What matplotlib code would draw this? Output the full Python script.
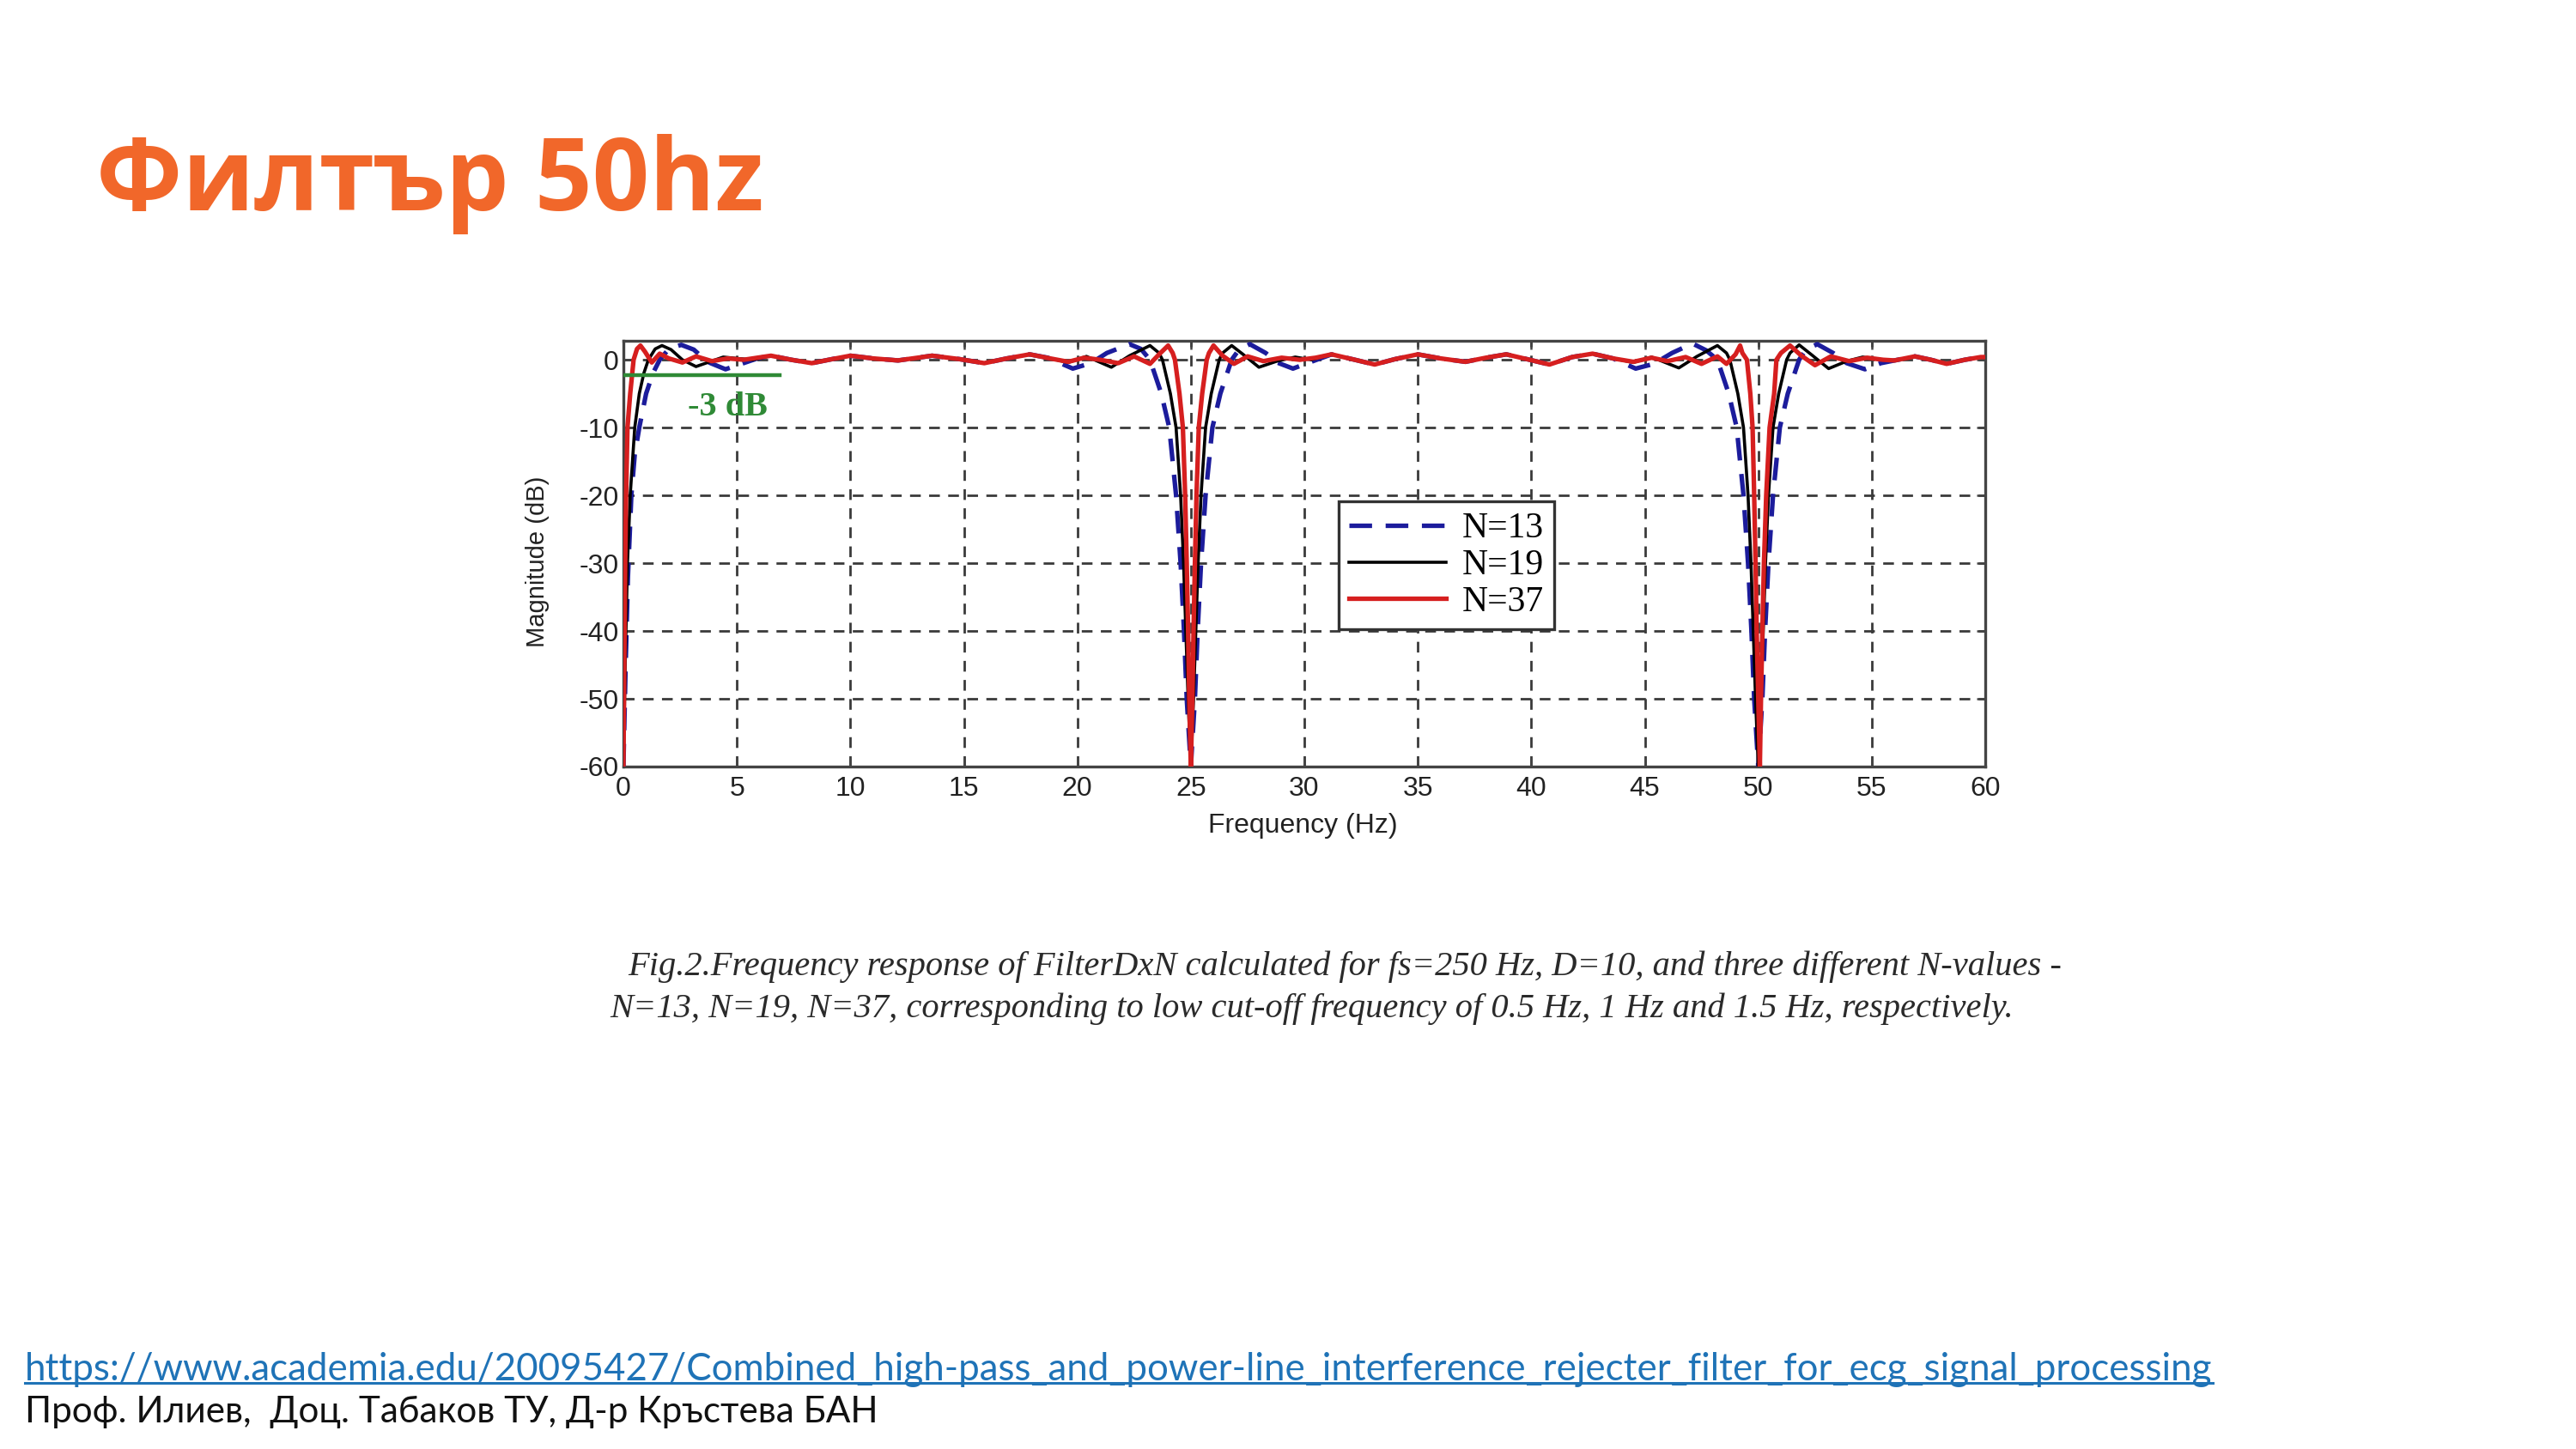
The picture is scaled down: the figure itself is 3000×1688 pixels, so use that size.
import matplotlib
matplotlib.use("Agg")
import matplotlib.pyplot as plt
from matplotlib.lines import Line2D

plt.rcParams["axes.unicode_minus"] = False

# ---------- data (Hz, dB) ----------
blue_hz = [0, 0.1, 0.2, 0.35, 0.5, 0.7, 1.0, 1.3, 1.6, 2.0, 2.55, 3.1, 3.7, 4.5, 5.2, 5.9,
           6.5, 7.4, 8.3, 9.2, 10.0, 11.0, 12.1, 13.6, 14.8, 15.9, 16.9, 17.9, 18.7, 19.8,
           20.6, 21.3, 22.3, 22.8, 23.2, 23.7, 24.05, 24.35, 24.55, 24.7, 24.82, 25.0,
           25.18, 25.3, 25.45, 25.65, 25.95, 26.3, 26.8, 27.1, 27.6, 28.3, 28.8, 29.5, 30.3,
           31.2, 32.1, 33.1, 34.0, 35.0, 36.0, 37.1, 38.0, 38.9, 39.8, 40.8, 41.8, 42.7,
           43.6, 44.6, 45.4, 46.2, 47.1, 47.7, 48.2, 48.7, 49.05, 49.35, 49.55, 49.7, 49.82,
           50.0, 50.18, 50.3, 50.45, 50.65, 50.95, 51.3, 51.8, 52.1, 52.6, 53.3, 53.9, 54.7,
           55.4, 56.0, 56.9, 57.6, 58.3, 59.1, 59.8, 60.0]
blue_db = [-60, -45, -32, -20, -14, -10, -5, -2, 0, 1.6, 2.2, 1.5, -0.3, -1.4, -0.6, 0.2,
           0.6, 0.0, -0.5, 0.1, 0.6, 0.2, -0.1, 0.6, 0.1, -0.5, 0.2, 0.8, 0.3, -1.3,
           -0.5, 1.0, 2.3, 1.6, 0.0, -5, -10, -20, -30, -40, -50, -60,
           -50, -40, -30, -20, -10, -5, 0.0, 1.4, 2.3, 1.0, -0.4, -1.3, -0.3,
           0.8, 0.1, -0.7, 0.1, 0.8, 0.2, -0.3, 0.3, 0.8, 0.1, -0.7, 0.4, 0.9,
           0.2, -1.3, -0.6, 1.0, 2.4, 1.4, 0.0, -5, -10, -20, -30, -40, -50,
           -60, -50, -40, -30, -20, -10, -5, 0.0, 1.5, 2.3, 1.0, -0.5, -1.4,
           -0.5, -0.1, 0.5, 0.0, -0.6, 0.0, 0.4, 0.4]

black_hz = [0, 0.08, 0.18, 0.3, 0.5, 0.7, 0.9, 1.1, 1.4, 1.7, 2.1, 2.6, 3.2, 3.8, 4.4, 5.0,
            5.7, 6.5, 7.4, 8.3, 9.2, 10.0, 11.0, 12.1, 13.6, 14.8, 15.9, 16.9, 17.9, 18.8,
            19.6, 20.4, 21.5, 22.3, 23.2, 23.6, 23.75, 24.1, 24.35, 24.55, 24.68, 24.78,
            24.88, 25.0, 25.12, 25.22, 25.32, 25.45, 25.65, 25.9, 26.25, 26.4, 26.8, 27.3,
            28.0, 28.8, 29.6, 30.3, 31.2, 32.1, 33.1, 34.0, 35.0, 36.0, 37.1, 38.0, 38.9,
            39.8, 40.8, 41.8, 42.7, 43.6, 44.5, 45.3, 46.5, 47.3, 48.2, 48.6, 48.75, 49.1,
            49.35, 49.55, 49.68, 49.78, 49.88, 50.0, 50.12, 50.22, 50.32, 50.45, 50.65,
            50.9, 51.25, 51.4, 51.8, 52.4, 53.1, 53.9, 54.6, 55.4, 56.0, 56.9, 57.6, 58.3,
            59.1, 59.8, 60.0]
black_db = [-60, -45, -30, -20, -10, -5, -2, 0, 1.6, 2.1, 1.5, 0.0, -1.0, -0.3, 0.4, 0.2,
            0.0, 0.6, 0.0, -0.5, 0.1, 0.6, 0.2, -0.1, 0.6, 0.1, -0.5, 0.2, 0.8, 0.2,
            -0.4, 0.5, -1.1, 0.6, 2.1, 1.0, 0.0, -5, -10, -20, -30, -40,
            -50, -60, -50, -40, -30, -20, -10, -5, 0.0, 1.0, 2.1, 0.8,
            -1.1, -0.2, 0.4, 0.0, 0.8, 0.1, -0.7, 0.1, 0.8, 0.2, -0.3, 0.3, 0.8,
            0.1, -0.7, 0.4, 0.9, 0.2, -0.4, 0.4, -1.2, 0.5, 2.1, 1.0, 0.0, -5,
            -10, -20, -30, -40, -50, -60, -50, -40, -30, -20, -10,
            -5, 0.0, 1.0, 2.2, 0.6, -1.3, -0.2, 0.4, 0.0, -0.1, 0.5, 0.0, -0.6,
            0.0, 0.4, 0.4]

red_hz = [0, 0.04, 0.08, 0.12, 0.18, 0.3, 0.45, 0.6, 0.75, 0.95, 1.25, 1.6, 2.0, 2.6, 3.2,
          3.9, 4.6, 5.3, 6.5, 7.4, 8.3, 9.2, 10.0, 11.0, 12.1, 13.6, 14.8, 15.9, 16.9, 17.9,
          18.8, 19.6, 20.3, 21.0, 21.8, 22.5, 23.2, 23.6, 24.0, 24.2, 24.3, 24.5, 24.65,
          24.75, 24.82, 24.88, 24.93, 25.0, 25.07, 25.12, 25.18, 25.25, 25.35, 25.5, 25.7,
          25.8, 26.0, 26.4, 26.9, 27.5, 28.2, 29.0, 29.8, 30.5, 31.2, 32.1, 33.1, 34.0,
          35.0, 36.0, 37.1, 38.0, 38.9, 39.8, 40.8, 41.8, 42.7, 43.6, 44.5, 45.3, 46.0,
          46.8, 47.5, 48.2, 48.6, 49.0, 49.2, 49.3, 49.5, 49.65, 49.75, 49.82, 49.88, 49.93,
          50.0, 50.07, 50.12, 50.18, 50.25, 50.35, 50.5, 50.7, 50.8, 51.0, 51.4, 51.9, 52.5,
          53.2, 54.0, 54.8, 55.5, 56.0, 56.9, 57.6, 58.3, 59.1, 59.8, 60.0]
red_db = [-60, -45, -30, -20, -10, -5, 0, 1.6, 2.1, 1.2, -0.4, 0.9, 0.2, -0.4, 0.5,
          -0.2, 0.2, 0.0, 0.6, 0.0, -0.5, 0.1, 0.6, 0.2, -0.1, 0.6, 0.1, -0.5, 0.2, 0.8,
          0.2, -0.3, 0.3, 0.0, -0.5, 0.5, -0.6, 0.8, 2.1, 1.0, 0.0, -5, -10,
          -20, -30, -40, -50, -60, -50, -40, -30, -20, -10, -5, 0.0,
          1.0, 2.1, 0.6, -0.6, 0.5, -0.2, 0.3, 0.0, 0.3, 0.8, 0.1, -0.7, 0.1,
          0.8, 0.2, -0.3, 0.3, 0.8, 0.1, -0.7, 0.4, 0.9, 0.2, -0.3, 0.3, -0.2,
          0.4, -0.6, 0.5, -0.6, 0.8, 2.1, 1.0, 0.0, -5, -10, -20, -30, -40, -50,
          -60, -50, -40, -30, -20, -10, -5, 0.0, 1.0, 2.1, 0.6, -0.8, 0.5,
          -0.2, 0.3, 0.0, -0.1, 0.5, 0.0, -0.6, 0.0, 0.4, 0.4]

series_labels = ["N=13", "N=19", "N=37"]
x_ticks = [0, 5, 10, 15, 20, 25, 30, 35, 40, 45, 50, 55, 60]
y_ticks = [0, -10, -20, -30, -40, -50, -60]

title_text = "Филтър 50hz"
caption_1 = ("Fig.2.Frequency response of FilterDxN calculated for fs=250 Hz, D=10, "
             "and three different N-values -")
caption_2 = ("N=13, N=19, N=37, corresponding to low cut-off frequency of 0.5 Hz, "
             "1 Hz and 1.5 Hz, respectively.")
link_text = ("https://www.academia.edu/20095427/Combined_high-pass_and_power-line_"
             "interference_rejecter_filter_for_ecg_signal_processing")
authors_text = "Проф. Илиев,  Доц. Табаков ТУ, Д-р Кръстева БАН"

# ---------- figure ----------
W, H = 3000, 1688
fig = plt.figure(figsize=(15, 8.44), dpi=200)
fig.patch.set_facecolor("white")

ax = fig.add_axes([726 / W, 1 - 893 / H, (2312 - 726) / W, (893 - 397) / H])

ax.plot(blue_hz, blue_db, color="#1c1c9c", lw=1.9, ls=(0, (5.0, 3.0)), label=series_labels[0], zorder=3)
ax.plot(black_hz, black_db, color="black", lw=1.3, label=series_labels[1], zorder=4)
ax.plot(red_hz, red_db, color="#d61f1f", lw=1.9, label=series_labels[2], zorder=5)

# -3 dB marker
ax.plot([0, 6.9], [-2.3, -2.3], color="#2f8a36", lw=1.6, zorder=6)
ax.text(4.6, -7.0, "-3 dB", color="#2f8a36", fontsize=14.5, fontweight="bold",
        family="Liberation Serif", ha="center", va="center", zorder=6)

ax.set_xlim(0, 60)
ax.set_ylim(-60, 2.8)
ax.set_xticks(x_ticks)
ax.set_yticks(y_ticks)
ax.grid(True, color="#3a3a3a", lw=1.0, ls=(0, (4.5, 3.5)))
ax.set_axisbelow(True)
for s in ax.spines.values():
    s.set_color("#444444")
    s.set_linewidth(1.2)
ax.tick_params(direction="in", length=3.5, width=0.9, top=True, right=True,
               colors="#444444", labelcolor="#222222", labelsize=11.5)
ax.tick_params(axis="x", pad=4)
ax.tick_params(axis="y", pad=2)
for lab in ax.get_xticklabels() + ax.get_yticklabels():
    lab.set_family("Liberation Sans")

ax.set_xlabel("Frequency (Hz)", fontsize=11.5, family="Liberation Sans", color="#222222")
ax.set_ylabel("Magnitude (dB)", fontsize=10.5, family="Liberation Sans", color="#222222")
ax.xaxis.set_label_coords(0.499, -0.108)
ax.yaxis.set_label_coords(-0.054, 0.482)

leg = ax.legend(loc="upper left", bbox_to_anchor=(0.525, 0.622), fancybox=False,
                framealpha=1, edgecolor="#333333", prop={"family": "Liberation Serif", "size": 15},
                handlelength=2.7, handletextpad=0.45, labelspacing=0.1, borderpad=0.3,
                borderaxespad=0)
leg.get_frame().set_linewidth(1.2)

# ---------- slide texts ----------
fig.text(112 / W, 1 - 245 / H, title_text, color="#f1672a", fontsize=42,
         fontweight="bold", family="Open Sans", ha="left", va="baseline")

fig.text(731 / W, 1 - 1126 / H, caption_1, fontsize=14.6, style="italic",
         family="Liberation Serif", color="#2a2a2a", ha="left", va="center")
fig.text(710 / W, 1 - 1175 / H, caption_2, fontsize=14.6, style="italic",
         family="Liberation Serif", color="#2a2a2a", ha="left", va="center")

link = fig.text(29 / W, 1 - 1596 / H, link_text, fontsize=15.8, family="Lato",
                color="#1f73b7", ha="left", va="center")
fig.text(29 / W, 1 - 1645 / H, authors_text, fontsize=15.2, family="Lato",
         color="#111111", ha="left", va="center")

# underline the link
fig.canvas.draw()
bb = link.get_window_extent().transformed(fig.transFigure.inverted())
fig.add_artist(Line2D([bb.x0, bb.x1], [bb.y0 + 0.003, bb.y0 + 0.003],
                      transform=fig.transFigure, color="#1f73b7", lw=1.1))

fig.savefig("out.png", dpi=200, facecolor="white")
